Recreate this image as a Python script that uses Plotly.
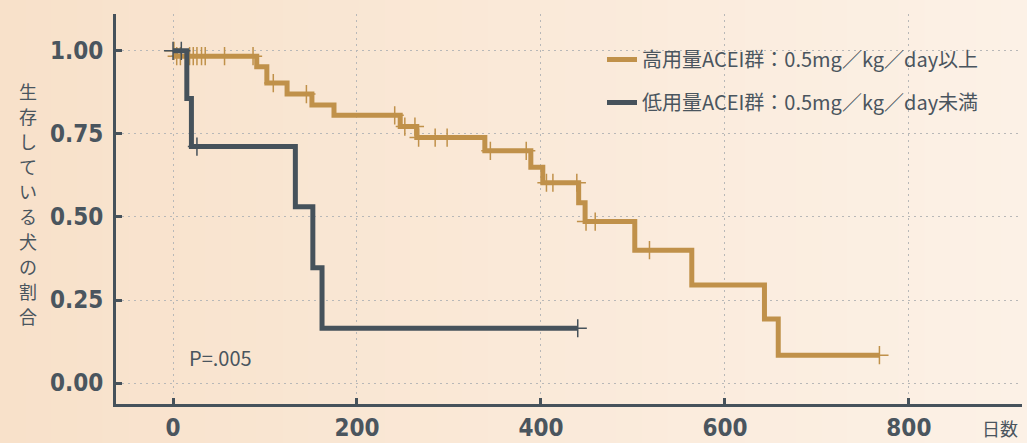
import plotly.graph_objects as go

# Kaplan-Meier steps: high-dose ACEI group (>= 0.5 mg/kg/day)
hi_days = [0, 3, 91, 102, 124, 151, 175, 247, 265, 339, 389, 402, 441, 448, 502, 564, 643, 658]
hi_surv = [1.0, 0.984, 0.952, 0.903, 0.870, 0.837, 0.806, 0.772, 0.739, 0.699, 0.650, 0.603,
           0.543, 0.486, 0.400, 0.295, 0.193, 0.084]
hi_end = 768
hi_censor = [1, 4, 8, 18, 22, 26, 31, 35, 56, 87, 109, 145, 241, 252, 263, 267, 285, 298,
             345, 384, 406, 413, 439, 449, 459, 518, 768]

# Kaplan-Meier steps: low-dose ACEI group (< 0.5 mg/kg/day)
lo_days = [0, 15, 20, 133, 152, 162]
lo_surv = [1.0, 0.857, 0.712, 0.531, 0.347, 0.165]
lo_end = 440
lo_censor = [0, 9, 26, 440]

x_ticks = [0, 200, 400, 600, 800]
y_ticks = [0.0, 0.25, 0.50, 0.75, 1.00]

hi_name = "高用量ACEI群：0.5mg／kg／day以上"
lo_name = "低用量ACEI群：0.5mg／kg／day未満"
y_title = "生存している犬の割合"
x_title = "日数"
p_text = "P=.005"

GOLD = "#C0914A"
SLATE = "#46525B"
TEXT = "#4A555E"


def surv_at(days, surv, t):
    s = surv[0]
    for d, v in zip(days, surv):
        if d <= t:
            s = v
    return s


fig = go.Figure()

for name, days, surv, end, cens, col, grp in [
    (hi_name, hi_days, hi_surv, hi_end, hi_censor, GOLD, "hi"),
    (lo_name, lo_days, lo_surv, lo_end, lo_censor, SLATE, "lo"),
]:
    fig.add_trace(go.Scatter(
        x=days + [end], y=surv + [surv[-1]], mode="lines", name=name,
        line=dict(color=col, width=5, shape="hv"), legendgroup=grp,
        hoverinfo="skip",
    ))
    fig.add_trace(go.Scatter(
        x=cens, y=[surv_at(days, surv, t) for t in cens], mode="markers",
        marker=dict(symbol="cross-thin", size=13, line=dict(color=col, width=1.5)),
        showlegend=False, legendgroup=grp, hoverinfo="skip",
    ))

W, H = 1027, 443
ML, MR, MT, MB = 116, 5, 14, 39
PW, PH = W - ML - MR, H - MT - MB

# peach background gradient across the page
shapes = []
n = 40
c0 = (248, 225, 202)
c1 = (252, 241, 230)
for i in range(n):
    f = i / (n - 1)
    c = tuple(round(a + (b - a) * f) for a, b in zip(c0, c1))
    x0 = (-ML + W * i / n) / PW
    x1 = (-ML + W * (i + 1) / n) / PW
    shapes.append(dict(type="rect", xref="paper", yref="paper",
                       x0=x0, x1=x1 + 0.002, y0=-MB / PH, y1=1 + MT / PH,
                       fillcolor="rgb(%d,%d,%d)" % c, line=dict(width=0), layer="below"))

tick_font = dict(family="DejaVu Sans Condensed, Liberation Sans Narrow, sans-serif",
                 size=24, color=TEXT, weight="bold")

grid = dict(showgrid=True, gridcolor="#B8B8B8", griddash="2px,4px", gridwidth=1.2)
axis_line = dict(showline=True, linecolor=SLATE, linewidth=3, zeroline=False,
                 ticks="inside", ticklen=6, tickwidth=3, tickcolor=SLATE,
                 tickfont=tick_font, automargin=False)

# vertical y-axis title: one upright character per row
title_font = dict(family="Noto Sans CJK JP", size=18, color=TEXT)
annotations = []
step_px = 25
top_px = 91
for i, ch in enumerate(y_title):
    annotations.append(dict(
        text=ch, xref="paper", yref="paper",
        x=(28 - ML) / PW, y=(404 - (top_px + i * step_px)) / PH,
        xanchor="center", yanchor="middle", showarrow=False, font=title_font))

annotations += [
    dict(text=x_title, xref="paper", yref="paper",
         x=(1000 - ML) / PW, y=-(428 - 404) / PH, xanchor="center", yanchor="middle",
         showarrow=False, font=dict(family="Noto Sans CJK JP", size=18, color=TEXT)),
    dict(text=p_text, x=15, y=0.078, xanchor="left", yanchor="middle",
         showarrow=False, font=dict(family="Noto Sans CJK JP", size=20, color=TEXT)),
]

fig.update_layout(
    width=W, height=H,
    margin=dict(l=ML, r=MR, t=MT, b=MB, autoexpand=False),
    paper_bgcolor="rgb(250,234,218)",
    plot_bgcolor="#FEFCFA",
    shapes=shapes,
    showlegend=True,
    legend=dict(
        x=(602 - ML) / PW, y=(404 - 40) / PH, xanchor="left", yanchor="top",
        bgcolor="rgba(0,0,0,0)", traceorder="grouped", tracegroupgap=14,
        font=dict(family="Noto Sans CJK JP", size=20, color=TEXT),
    ),
    xaxis=dict(
        range=[-62, 923], tickvals=x_ticks, ticktext=[str(v) for v in x_ticks],
        ticklabelstandoff=0, **grid, **axis_line,
    ),
    yaxis=dict(
        range=[-0.063, 1.111], tickvals=y_ticks, ticktext=["%.2f" % v for v in y_ticks],
        ticklabelstandoff=5, **grid, **axis_line,
    ),
    annotations=annotations,
)

fig.write_html("out.html")
